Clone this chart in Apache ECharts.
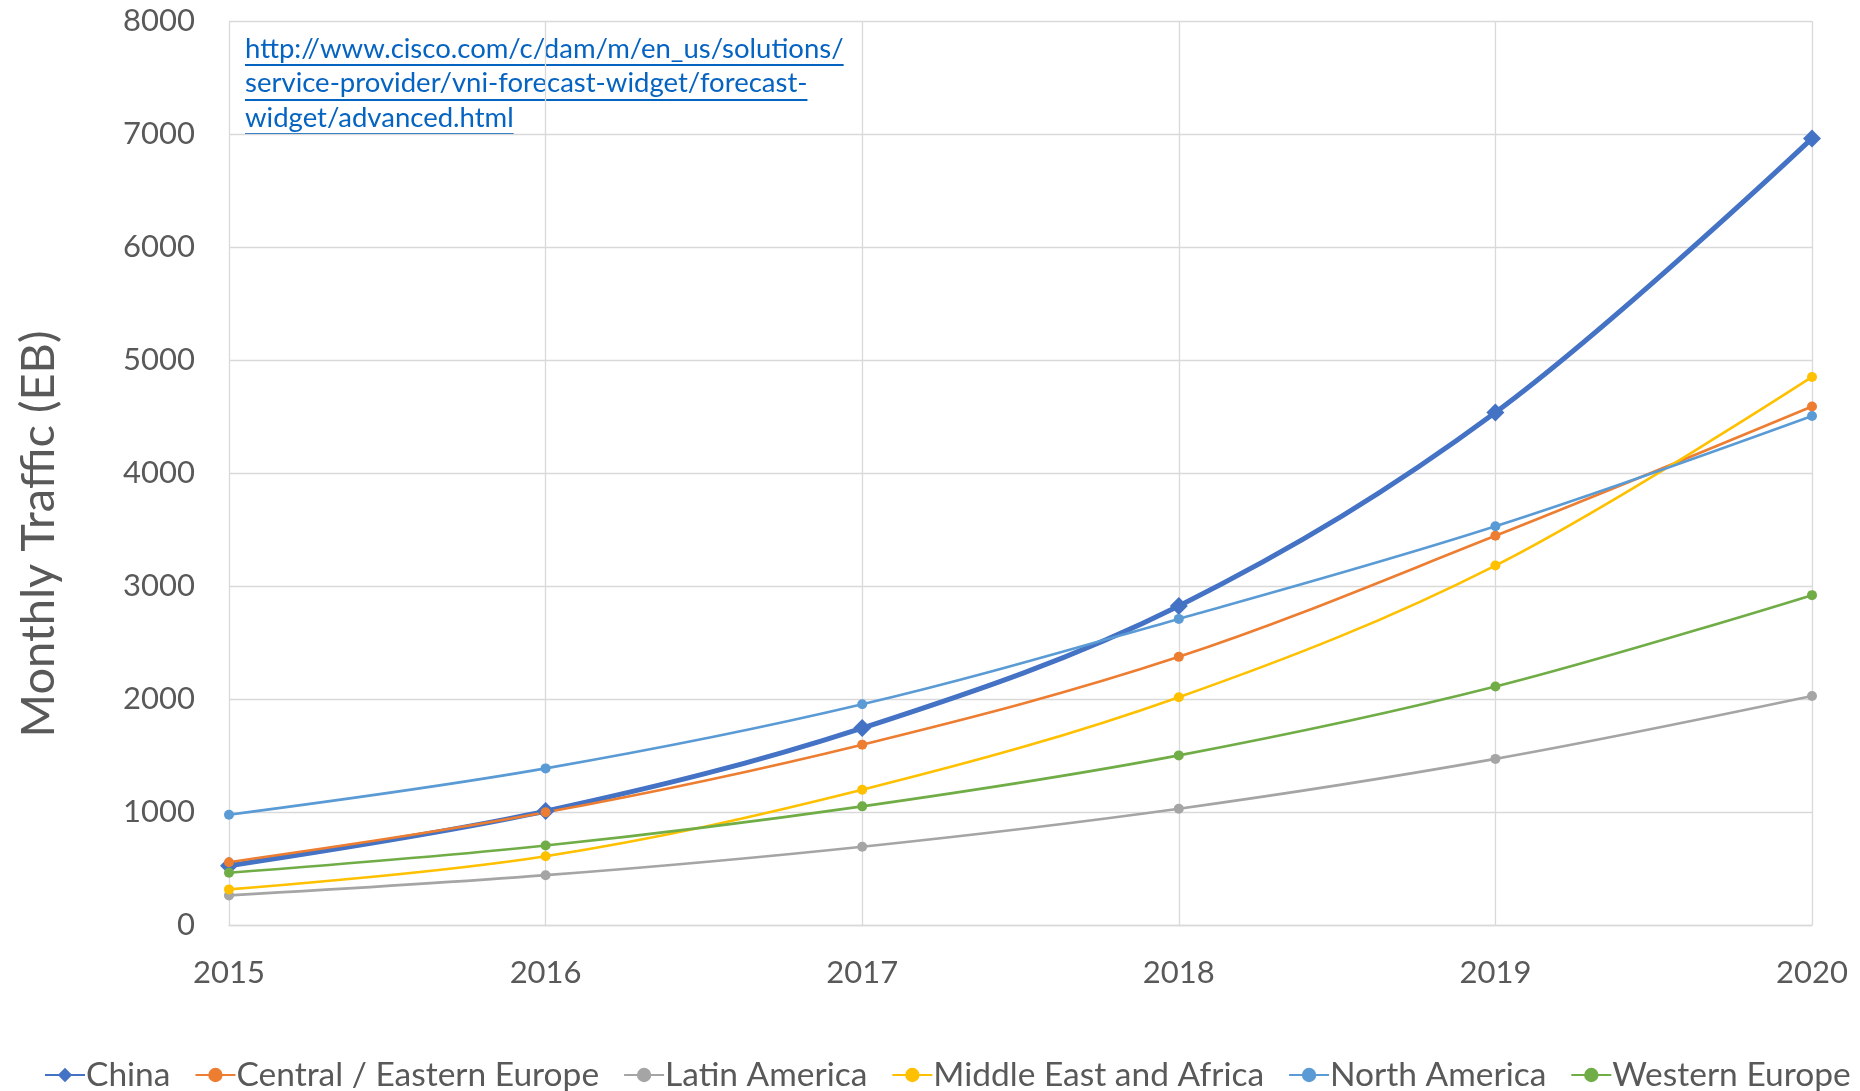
<!DOCTYPE html>
<html>
<head>
<meta charset="utf-8">
<title>Monthly Traffic by Region</title>
<script src="https://cdn.jsdelivr.net/npm/echarts@6/dist/echarts.min.js"></script>
<style>
  html, body { margin: 0; padding: 0; background: #ffffff; }
  #chart { width: 1860px; height: 1091px; }
</style>
</head>
<body>
<div id="chart"></div>
<script>
// Forecast monthly traffic (EB) per region, 2015-2020
const years = ['2015', '2016', '2017', '2018', '2019', '2020'];
const china = [525, 1008, 1743, 2824, 4535, 6961];
const centralEasternEurope = [556, 997, 1596, 2373, 3444, 4588];
const latinAmerica = [262, 441, 693, 1029, 1470, 2026];
const middleEastAfrica = [315, 609, 1197, 2016, 3181, 4850];
const northAmerica = [976, 1386, 1953, 2709, 3528, 4504];
const westernEurope = [462, 703, 1050, 1501, 2110, 2919];
const yTicks = { min: 0, max: 8000, interval: 1000 };
const sourceLines = [
  'http://www.cisco.com/c/dam/m/en_us/solutions/',
  'service-provider/vni-forecast-widget/forecast-',
  'widget/advanced.html'
];

const FONT = 'Lato';
const TEXT_GREY = '#595959';
const GRID_GREY = '#d9d9d9';
const LINK_BLUE = '#0563C1';

const chart = echarts.init(document.getElementById('chart'), null, { renderer: 'canvas' });

function lineSeries(name, data, color, opts) {
  opts = opts || {};
  return {
    name: name,
    type: 'line',
    data: data,
    smooth: 0.35,
    symbol: opts.symbol || 'circle',
    symbolSize: opts.symbolSize || 10,
    lineStyle: { color: color, width: opts.width || 2.6 },
    itemStyle: { color: color },
    emphasis: { disabled: true }
  };
}

// Underlined source link drawn as text + rule lines
const linkFontSize = 27.5;
const linkLineHeight = 34.5;
const linkX = 245;
const linkY0 = 52;
const measureCtx = document.createElement('canvas').getContext('2d');
measureCtx.font = linkFontSize + 'px ' + FONT;
const linkGraphics = [];
sourceLines.forEach(function (txt, i) {
  const cy = linkY0 + i * linkLineHeight;
  const w = measureCtx.measureText(txt).width;
  const uy = Math.round(cy + linkFontSize * 0.48);
  linkGraphics.push({
    type: 'text', left: linkX, top: cy - linkFontSize * 0.62,
    style: { text: txt, fill: LINK_BLUE, font: linkFontSize + 'px ' + FONT }
  });
  linkGraphics.push({
    type: 'line',
    shape: { x1: linkX, y1: uy, x2: linkX + w, y2: uy },
    style: { stroke: LINK_BLUE, lineWidth: 2 }
  });
});

const option = {
  backgroundColor: '#ffffff',
  animation: false,
  textStyle: { fontFamily: FONT },
  grid: { left: 229, right: 48, top: 21, bottom: 166, containLabel: false },
  xAxis: {
    type: 'category',
    data: years,
    boundaryGap: false,
    axisLine: { show: true, lineStyle: { color: GRID_GREY, width: 1.3 } },
    axisTick: { show: false },
    splitLine: { show: true, lineStyle: { color: GRID_GREY, width: 1.3 } },
    axisLabel: { color: TEXT_GREY, fontSize: 31, fontFamily: FONT, margin: 32 }
  },
  yAxis: {
    type: 'value',
    min: yTicks.min, max: yTicks.max, interval: yTicks.interval,
    axisLine: { show: false },
    axisTick: { show: false },
    splitLine: { show: true, lineStyle: { color: GRID_GREY, width: 1.3 } },
    axisLabel: {
      color: TEXT_GREY, fontSize: 31, fontFamily: FONT, margin: 34,
      formatter: function (v) { return String(v); }
    }
  },
  legend: {
    bottom: -6,
    left: 39,
    width: 1860,
    itemGap: 24,
    itemWidth: 40,
    itemHeight: 18,
    textStyle: { color: TEXT_GREY, fontSize: 33.5, fontFamily: FONT, padding: [0, 0, 0, -4] },
    data: ['China', 'Central / Eastern Europe', 'Latin America', 'Middle East and Africa', 'North America', 'Western Europe']
  },
  graphic: linkGraphics.concat([
    {
      type: 'text',
      x: 39, y: 534,
      rotation: Math.PI / 2,
      style: {
        text: 'Monthly Traffic (EB)',
        fill: TEXT_GREY,
        font: '47px ' + FONT,
        align: 'center',
        verticalAlign: 'middle'
      }
    }
  ]),
  series: [
    lineSeries('China', china, '#4472C4', { symbol: 'diamond', symbolSize: 18, width: 5 }),
    lineSeries('Central / Eastern Europe', centralEasternEurope, '#ED7D31'),
    lineSeries('Latin America', latinAmerica, '#A5A5A5'),
    lineSeries('Middle East and Africa', middleEastAfrica, '#FFC000'),
    lineSeries('North America', northAmerica, '#5B9BD5'),
    lineSeries('Western Europe', westernEurope, '#70AD47')
  ]
};

chart.setOption(option);
</script>
</body>
</html>
